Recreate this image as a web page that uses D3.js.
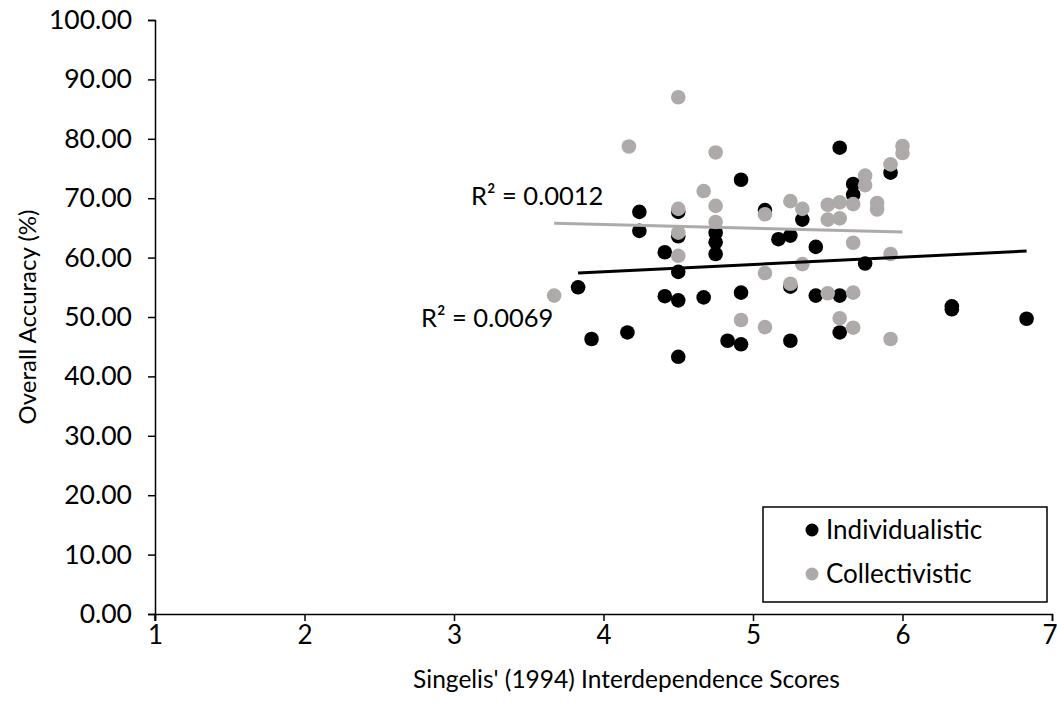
<!DOCTYPE html>
<html>
<head>
<meta charset="utf-8">
<script src="https://cdn.jsdelivr.net/npm/d3@7"></script>
<style>
  html, body { margin: 0; padding: 0; background: #fff; }
  svg { display: block; }
  text { font-family: Lato, "Open Sans", sans-serif; fill: #000; }
</style>
</head>
<body>
<svg id="chart" width="1057" height="713"></svg>
<script>
// ---------- data ----------
const indivX = [3.83, 3.92, 4.16, 4.24, 4.24, 4.41, 4.41, 4.50, 4.50, 4.50, 4.50, 4.50, 4.67, 4.75, 4.75, 4.75, 4.83, 4.92, 4.92, 4.92, 5.08, 5.17, 5.25, 5.25, 5.25, 5.33, 5.42, 5.42, 5.58, 5.58, 5.58, 5.67, 5.67, 5.75, 5.92, 6.33, 6.33, 6.83];
const indivY = [55.0, 46.3, 47.4, 67.7, 64.5, 60.9, 53.5, 67.7, 63.6, 57.6, 52.8, 43.3, 53.3, 64.2, 62.6, 60.6, 46.0, 73.1, 54.1, 45.4, 68.0, 63.1, 63.7, 55.1, 46.0, 66.4, 61.8, 53.6, 78.5, 53.6, 47.4, 72.4, 70.6, 59.0, 74.3, 51.8, 51.3, 49.7];
const collX = [3.67, 4.17, 4.50, 4.50, 4.50, 4.50, 4.67, 4.75, 4.75, 4.75, 4.92, 5.08, 5.08, 5.08, 5.25, 5.25, 5.33, 5.33, 5.50, 5.50, 5.50, 5.58, 5.58, 5.58, 5.67, 5.67, 5.67, 5.67, 5.75, 5.75, 5.83, 5.83, 5.92, 5.92, 5.92, 6.00, 6.00];
const collY = [53.6, 78.7, 87.0, 68.2, 64.2, 60.3, 71.2, 77.7, 68.7, 66.0, 49.5, 67.3, 57.4, 48.3, 69.5, 55.6, 68.2, 58.9, 68.9, 66.4, 54.0, 69.3, 66.6, 49.8, 69.0, 62.5, 54.1, 48.2, 73.8, 72.2, 69.2, 68.1, 75.7, 60.6, 46.3, 78.8, 77.6];
// linear trendlines (slope, intercept) and R² labels as shown
const indivTrend = [1.233, 52.68];
const collTrend = [-0.644, 68.16];
const indivR2 = "R² = 0.0069";
const collR2 = "R² = 0.0012";
const seriesNames = ["Individualistic", "Collectivistic"];
const xTicks = [1, 2, 3, 4, 5, 6, 7];
const yTicks = [0, 10, 20, 30, 40, 50, 60, 70, 80, 90, 100];

// ---------- layout ----------
const colors = ["#000000", "#AEAAAA"];
const svg = d3.select("#chart");
const x = d3.scaleLinear().domain([1, 7]).range([155, 1052]);
const y = d3.scaleLinear().domain([0, 100]).range([614, 20]);
const FS = 26;

// axes
const yAxis = svg.append("g").attr("transform", `translate(${x(1)},0)`)
  .call(d3.axisLeft(y).tickValues(yTicks).tickFormat(d3.format(".2f")).tickSize(7).tickPadding(16));
const xAxis = svg.append("g").attr("transform", `translate(0,${y(0)})`)
  .call(d3.axisBottom(x).tickValues(xTicks).tickFormat(d3.format("d")).tickSize(7).tickPadding(5));
[yAxis, xAxis].forEach(g => {
  g.select(".domain").attr("stroke", "#000").attr("stroke-width", 1.5);
  g.selectAll(".tick line").attr("stroke", "#000").attr("stroke-width", 1.5);
  g.selectAll(".tick text").style("font-family", "Lato");
});
yAxis.selectAll(".tick text").style("font-size", "26.5px");
xAxis.selectAll(".tick text").style("font-size", FS + "px");
// keep the last x label inside the canvas
xAxis.selectAll(".tick text").filter(d => d === 7).attr("text-anchor", "end").attr("dx", "0.2em");
// y-axis line also crosses below x axis slightly
svg.append("line").attr("x1", x(1)).attr("x2", x(1)).attr("y1", y(0)).attr("y2", y(0) + 7)
  .attr("stroke", "#000").attr("stroke-width", 1.5);

// points
const indiv = indivX.map((v, i) => ({ x: v, y: indivY[i] }));
const coll = collX.map((v, i) => ({ x: v, y: collY[i] }));
[[indiv, 0], [coll, 1]].forEach(([data, k]) => {
  svg.append("g").selectAll("circle").data(data).join("circle")
    .attr("cx", d => x(d.x)).attr("cy", d => y(d.y)).attr("r", 7.3)
    .attr("fill", colors[k]);
});

// trendlines
function trend(data, coef, color) {
  const ext = d3.extent(data, d => d.x);
  svg.append("line")
    .attr("x1", x(ext[0])).attr("y1", y(coef[0] * ext[0] + coef[1]))
    .attr("x2", x(ext[1])).attr("y2", y(coef[0] * ext[1] + coef[1]))
    .attr("stroke", color).attr("stroke-width", 3);
}
trend(indiv, indivTrend, colors[0]);
trend(coll, collTrend, colors[1]);

// R² labels
svg.append("text").attr("x", 471).attr("y", 205).style("font-size", "25.5px").text(collR2);
svg.append("text").attr("x", 421).attr("y", 327).style("font-size", "25.5px").text(indivR2);

// axis titles
svg.append("text").attr("transform", `translate(36,${(y(0) + y(100)) / 2}) rotate(-90)`)
  .attr("text-anchor", "middle").style("font-size", "24px").text("Overall Accuracy (%)");
svg.append("text").attr("x", (x(1) + x(7)) / 2 + 23).attr("y", 688)
  .attr("text-anchor", "middle").style("font-size", "24.5px").text("Singelis' (1994) Interdependence Scores");

// legend
const lg = svg.append("g");
lg.append("rect").attr("x", 763).attr("y", 507).attr("width", 284).attr("height", 95)
  .attr("fill", "#fff").attr("stroke", "#000").attr("stroke-width", 1.5);
seriesNames.forEach((n, i) => {
  lg.append("circle").attr("cx", 812).attr("cy", 530 + i * 44).attr("r", 6.5).attr("fill", colors[i]);
  lg.append("text").attr("x", 826).attr("y", 539 + i * 44).style("font-size", FS + "px").text(n);
});
</script>
</body>
</html>
